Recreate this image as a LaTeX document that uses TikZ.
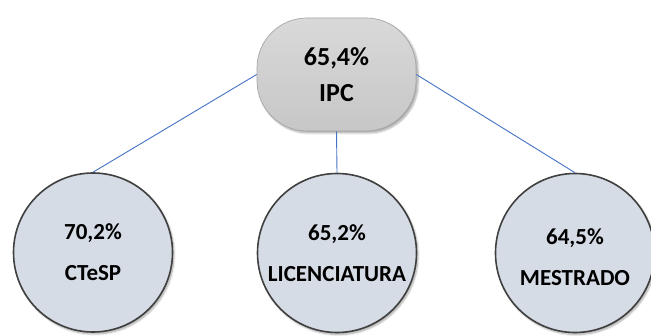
\documentclass[tikz,border=0pt]{standalone}
\usepackage{fontspec}
\setmainfont{Carlito}
\usetikzlibrary{shadows.blur}
\definecolor{linkblue}{HTML}{4472C4}
\definecolor{circfill}{HTML}{D6DCE5}
\definecolor{circdraw}{HTML}{404040}
\definecolor{topdraw}{HTML}{A6A6A6}
\tikzset{
  topbox/.style={rectangle, rounded corners=50pt, minimum width=159pt, minimum height=113pt,
    draw=topdraw, line width=0.7pt, top color=black!15, bottom color=black!22,
    blur shadow={shadow xshift=2pt, shadow yshift=-2pt, shadow blur steps=8, shadow opacity=35},
    align=center, font=\bfseries\fontsize{26}{36}\selectfont, inner sep=0pt},
  levelcirc/.style={circle, minimum size=159pt, draw=circdraw, line width=1.6pt, fill=circfill,
    blur shadow={shadow xshift=1.5pt, shadow yshift=-2pt, shadow blur steps=8, shadow opacity=35},
    align=center, font=\bfseries\fontsize{23}{41}\selectfont, inner sep=0pt},
  link/.style={draw=linkblue, line width=0.9pt}
}
\begin{document}
\begin{tikzpicture}[x=1pt,y=1pt]
\useasboundingbox (0,0) rectangle (651,-336);
\node[levelcirc] (c1) at (93,-252.5) {70,2\%\\CTeSP};
\node[levelcirc] (c2) at (337,-253) {65,2\%\\LICENCIATURA};
\node[levelcirc] (c3) at (575,-253) {};
\node (c3t) at (575,-257.5) [align=center, font=\bfseries\fontsize{23}{41}\selectfont, inner sep=0pt] {64,5\%\\MESTRADO};
\node[topbox] (top) at (336.5,-74.5) {65,4\%\\IPC};
\draw[link] (top.west) -- (c1.north);
\draw[link] (top.south) -- (c2.north);
\draw[link] (top.east) -- (c3.north);
\end{tikzpicture}
\end{document}
